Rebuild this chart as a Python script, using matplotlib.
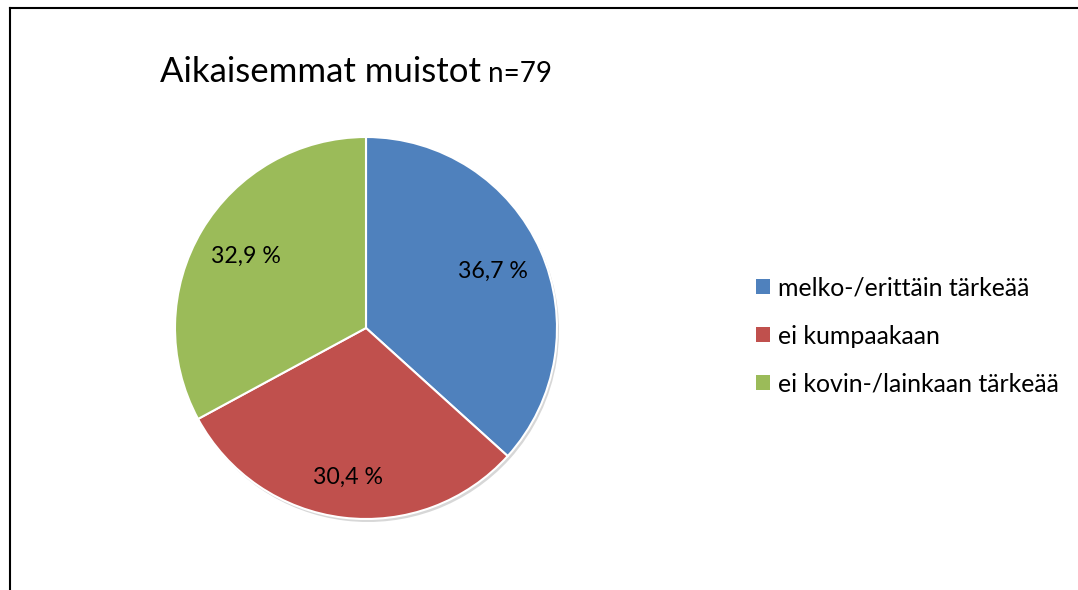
import matplotlib
matplotlib.use("Agg")
import matplotlib.pyplot as plt
from matplotlib.lines import Line2D
from matplotlib.patches import Patch
import numpy as np

categories = ["melko-/erittäin tärkeää", "ei kumpaakaan", "ei kovin-/lainkaan tärkeää"]
values = [36.7, 30.4, 32.9]
value_labels = ["36,7 %", "30,4 %", "32,9 %"]
colors = ["#4F81BD", "#C0504D", "#9BBB59"]
label_radius = [0.73, 0.79, 0.73]

W, H = 1078, 590
plt.rcParams['font.family'] = ['Lato', 'DejaVu Sans']
fig = plt.figure(figsize=(W / 100, H / 100), dpi=100)
fig.patch.set_facecolor("white")

ax = fig.add_axes([0, 0, 1, 1])
ax.axis("off")

cx, cy, r = 366, H - 328, 191

# shadow
ax.pie(values, startangle=90, counterclock=False, radius=r,
       center=(cx + 2, cy - 3), colors=["#b0b0b0"] * 3,
       wedgeprops=dict(linewidth=0, alpha=0.5))
wedges, _ = ax.pie(values, startangle=90, counterclock=False, radius=r,
                   center=(cx, cy), colors=colors,
                   wedgeprops=dict(edgecolor="white", linewidth=1.5))
ax.set_xlim(0, W)
ax.set_ylim(0, H)
ax.set_aspect("equal")

for w, lab, f in zip(wedges, value_labels, label_radius):
    ang = np.deg2rad((w.theta1 + w.theta2) / 2)
    x = cx + f * r * np.cos(ang)
    y = cy + f * r * np.sin(ang)
    ax.text(x, y, lab, ha="center", va="center", fontsize=16.7, color="black")

# title
fig.text(160 / W, 1 - 82 / H, "Aikaisemmat muistot", fontsize=25, va="baseline", ha="left")
fig.text(488 / W, 1 - 82 / H, "n=79", fontsize=20, va="baseline", ha="left")

handles = [Patch(facecolor=c, edgecolor="none") for c in colors]
leg = fig.legend(handles, categories, loc="center left",
                 bbox_to_anchor=(744 / W, 1 - 336 / H), frameon=False,
                 fontsize=17.9, handlelength=0.55, handleheight=0.55,
                 handletextpad=0.3, labelspacing=1.0, borderpad=0)

# frame
fig.add_artist(Line2D([10 / W, 10 / W], [0, 1 - 8 / H], color="black", lw=1.5,
                      transform=fig.transFigure))
fig.add_artist(Line2D([10 / W, 1], [1 - 8 / H, 1 - 8 / H], color="black", lw=1.5,
                      transform=fig.transFigure))

fig.savefig("out.png", dpi=100, facecolor="white")
